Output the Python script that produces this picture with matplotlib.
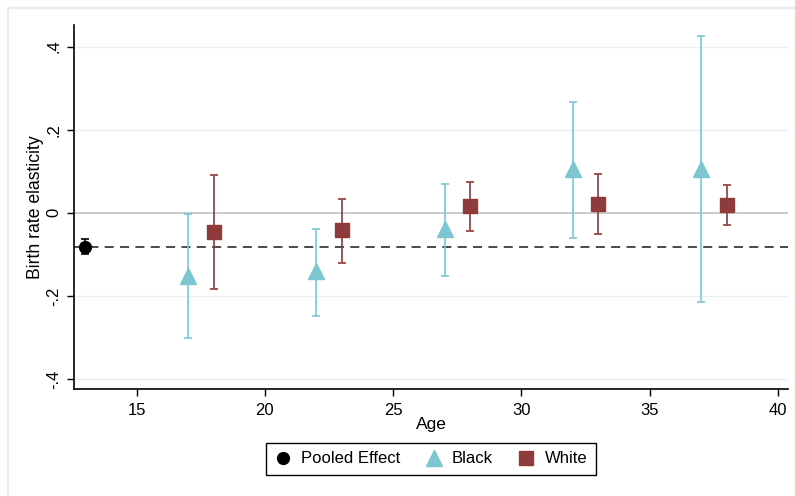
import matplotlib.pyplot as plt
from matplotlib.patches import Rectangle

plt.rcParams['font.family'] = ['Liberation Sans', 'DejaVu Sans']

# pooled estimate
pooled_age = [13]
pooled_est = [-0.082]
pooled_lo = [-0.100]
pooled_hi = [-0.064]

# black
black_age = [17, 22, 27, 32, 37]
black_est = [-0.152, -0.140, -0.038, 0.106, 0.106]
black_lo = [-0.302, -0.249, -0.152, -0.060, -0.214]
black_hi = [-0.002, -0.039, 0.069, 0.267, 0.425]

# white
white_age = [18, 23, 28, 33, 38]
white_est = [-0.047, -0.042, 0.016, 0.022, 0.018]
white_lo = [-0.184, -0.120, -0.043, -0.050, -0.029]
white_hi = [0.092, 0.033, 0.075, 0.094, 0.066]

yticks = [-0.4, -0.2, 0, 0.2, 0.4]
ytick_labels = ['-.4', '-.2', '0', '.2', '.4']
xticks = [15, 20, 25, 30, 35, 40]

teal = '#7CC6D2'
red = '#8F3A3B'

fig = plt.figure(figsize=(7.95, 4.96), dpi=100)
ax = fig.add_axes([0.0931, 0.2151, 0.8985, 0.7345])

# light frame of the graph region
fig.patches.append(Rectangle((7.5 / 795, -0.1), 1.2, 1 - 7.5 / 496 + 0.1,
                             transform=fig.transFigure, fill=False,
                             edgecolor='#E4EEEF', lw=1.5, zorder=0))

for y in yticks:
    if y != 0:
        ax.axhline(y, color='#E8F0F1', lw=1, zorder=0)
ax.axhline(0, color='#BDBDBD', lw=1.1, zorder=1)
ax.axhline(pooled_est[0], color='#3C3C3C', lw=1.3, ls=(0, (5, 3.5)), zorder=2)

def ci(x, est, lo, hi, color, marker, ms, label):
    yerr = [[e - l for e, l in zip(est, lo)], [h - e for e, h in zip(est, hi)]]
    ax.errorbar(x, est, yerr=yerr, fmt='none', ecolor=color, elinewidth=1.2,
                capsize=3, capthick=1.2, zorder=3)
    return ax.plot(x, est, ls='none', marker=marker, ms=ms, color=color,
                   label=label, zorder=4)[0]

h1 = ci(pooled_age, pooled_est, pooled_lo, pooled_hi, 'black', 'o', 8.5, 'Pooled Effect')
h2 = ci(black_age, black_est, black_lo, black_hi, teal, '^', 11, 'Black')
h3 = ci(white_age, white_est, white_lo, white_hi, red, 's', 10, 'White')

ax.set_xlim(12.56, 40.4)
ax.set_ylim(-0.425, 0.452)
ax.set_xticks(xticks)
ax.set_yticks(yticks)
ax.set_yticklabels(ytick_labels, rotation=90, va='center')
ax.tick_params(axis='both', labelsize=12, length=5, width=1, color='black')
ax.tick_params(axis='x', pad=5)
ax.tick_params(axis='y', pad=4)

for s in ['top', 'right']:
    ax.spines[s].set_visible(False)
for s in ['left', 'bottom']:
    ax.spines[s].set_linewidth(1.2)

ax.set_xlabel('Age', fontsize=12.5, labelpad=-1)
ax.set_ylabel('Birth rate elasticity', fontsize=12.7, labelpad=1.5)

leg = fig.legend(handles=[h1, h2, h3], loc='center', bbox_to_anchor=(0.542, 0.0746),
                 ncol=3, fontsize=12, frameon=True, fancybox=False,
                 edgecolor='black', handlelength=1.0, handletextpad=0.6,
                 columnspacing=1.5, borderpad=0.5)
leg.get_frame().set_linewidth(1.0)
leg.get_frame().set_alpha(1)

fig.savefig('out.png', dpi=100)
